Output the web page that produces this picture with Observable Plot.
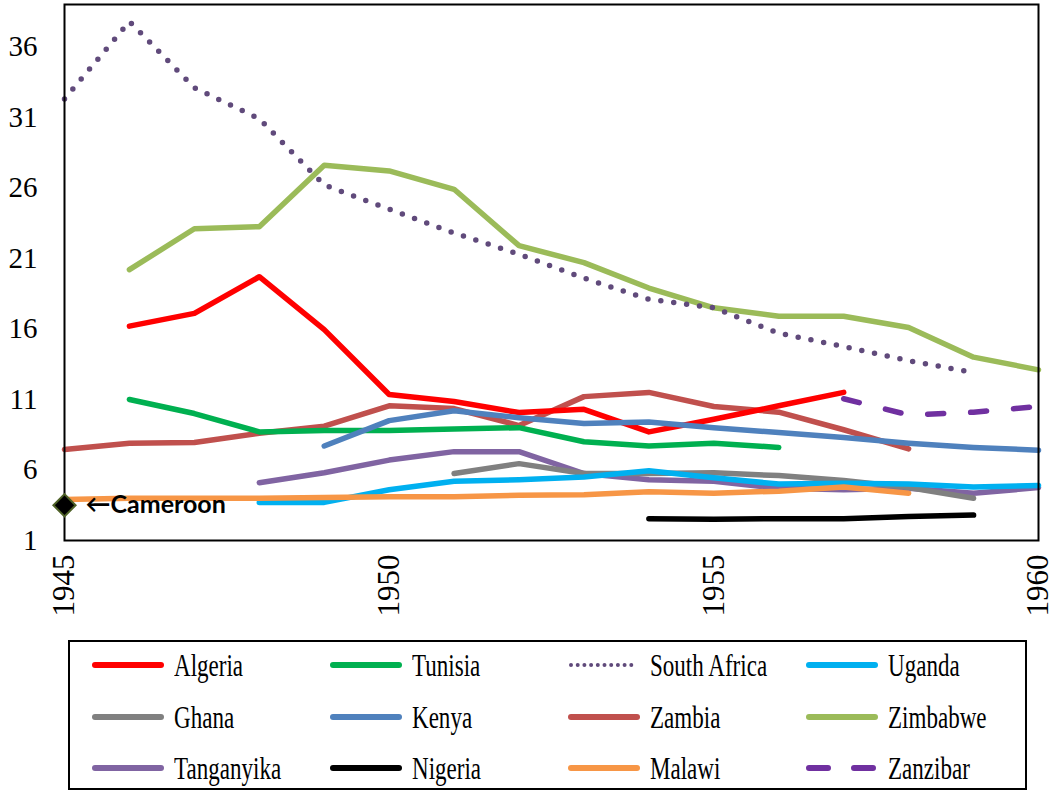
<!DOCTYPE html>
<html><head><meta charset="utf-8">
<script src="https://cdn.jsdelivr.net/npm/d3@7"></script>
<script src="https://cdn.jsdelivr.net/npm/@observablehq/plot@0.6"></script>
<style>
body{margin:0;background:#fff;}
#wrap{position:relative;width:1049px;height:790px;overflow:hidden;}
#chart svg g[aria-label="y-axis tick label"], #chart svg g[aria-label="x-axis tick label"],
#chart svg g[aria-label="y-axis tick label"] text, #chart svg g[aria-label="x-axis tick label"] text{font-family:"Liberation Serif","Times New Roman",serif !important;}
#legend{position:absolute;left:68px;top:640px;width:955px;height:146px;border:2px solid #000;box-sizing:content-box;}
.item{position:absolute;display:flex;align-items:center;height:30px;white-space:nowrap;}
.item svg{flex:none;}
.item span{display:inline-block;font-family:"Liberation Serif",serif;font-size:32px;color:#000;transform:scaleX(0.72);transform-origin:left center;margin-left:9px;line-height:30px;}
</style></head><body><div id="wrap"><div id="chart"></div><div id="legend"></div></div>
<script>
const years = [1945,1946,1947,1948,1949,1950,1951,1952,1953,1954,1955,1956,1957,1958,1959,1960];
const countries = ["Algeria","Tunisia","South Africa","Uganda","Ghana","Kenya","Zambia","Zimbabwe","Tanganyika","Nigeria","Malawi","Zanzibar"];
const colors = ["#FF0000","#00B050","#604A7B","#00B0F0","#808080","#4F81BD","#C0504D","#9BBB59","#8064A2","#000000","#F79646","#7030A0"];
const algeria     = [null,16.2,17.1,19.7,15.95,11.35,10.85,10.07,10.3,8.7,9.6,10.55,11.5,null,null,null];
const tunisia     = [null,11.0,10.0,8.7,8.8,8.8,8.9,9.0,8.0,7.7,7.9,7.6,null,null,null,null];
const southAfrica = [32.3,37.8,33.1,30.9,26.2,24.5,22.8,21.3,19.6,18.1,17.5,15.7,14.75,13.75,12.9,null];
const uganda      = [null,null,null,3.7,3.7,4.6,5.2,5.3,5.5,5.95,5.45,5.0,5.05,5.0,4.8,4.9];
const ghana       = [null,null,null,null,null,null,5.75,6.45,5.75,5.75,5.8,5.6,5.25,4.75,4.0,null];
const kenya       = [null,null,null,null,7.7,9.5,10.2,9.7,9.3,9.4,9.0,8.65,8.3,7.9,7.6,7.4];
const zambia      = [7.45,7.9,7.95,8.6,9.1,10.55,10.35,9.15,11.2,11.5,10.5,10.1,8.85,7.5,null,null];
const zimbabwe    = [null,20.2,23.1,23.25,27.6,27.2,25.9,21.9,20.7,18.9,17.5,16.9,16.9,16.1,14.0,13.1];
const tanganyika  = [null,null,null,5.1,5.8,6.7,7.3,7.3,5.75,5.3,5.2,4.7,4.6,4.7,4.35,4.75];
const nigeria     = [null,null,null,null,null,null,null,null,null,2.55,2.5,2.55,2.55,2.7,2.8,null];
const malawi      = [3.9,4.0,4.0,4.0,4.05,4.1,4.1,4.2,4.25,4.45,4.35,4.5,4.8,4.35,null,null];
const zanzibar    = [null,null,null,null,null,null,null,null,null,null,null,null,11.05,9.9,10.1,10.5];
const seriesValues = [algeria,tunisia,southAfrica,uganda,ghana,kenya,zambia,zimbabwe,tanganyika,nigeria,malawi,zanzibar];
const cameroon = [{year:1945, value:3.5, label:"←Cameroon"}];
const yTicks = [1,6,11,16,21,26,31,36];
const xTicks = [1945,1950,1955,1960];

const rows = countries.flatMap((c,i) => years.map((y,j) => ({country:c, year:y, value:seriesValues[i][j]})).filter(d => d.value != null));
const solid = rows.filter(d => d.country !== "South Africa" && d.country !== "Zanzibar");
const drawOrder = ["Zambia","Algeria","Tunisia","Zimbabwe","Kenya","Tanganyika","Ghana","Uganda","Malawi","Nigeria"];
solid.sort((a,b) => drawOrder.indexOf(a.country) - drawOrder.indexOf(b.country));
const serif = "Liberation Serif, Times New Roman, serif";

const chart = Plot.plot({
  width:1049, height:625,
  marginLeft:64, marginRight:11, marginTop:4, marginBottom:85,
  style:{background:"#fff", color:"#000"},
  x:{domain:[1945,1960]},
  y:{domain:[1,39]},
  color:{domain:countries, range:colors},
  marks:[
    Plot.axisY({ticks:yTicks, tickSize:0, tickPadding:27, fontSize:29, fontFamily:serif, label:null, tickFormat:d=>String(d)}),
    Plot.axisX({ticks:xTicks, tickSize:0, tickPadding:14, fontSize:31, fontFamily:serif, tickRotate:-90, label:null, tickFormat:d=>String(d)}),
    Plot.line(solid, {x:"year", y:"value", z:"country", stroke:"country", strokeWidth:5.5, strokeLinecap:"round", strokeLinejoin:"round"}),
    Plot.line(rows.filter(d=>d.country==="South Africa"), {x:"year", y:"value", stroke:"country", strokeWidth:5.5, strokeDasharray:"0 13", strokeLinecap:"round"}),
    Plot.line(rows.filter(d=>d.country==="Zanzibar"), {x:"year", y:"value", stroke:"country", strokeWidth:5.5, strokeDasharray:"16 27", strokeLinecap:"round"}),
    Plot.frame({stroke:"#000", strokeWidth:2}),
    Plot.dot(cameroon, {x:"year", y:"value", symbol:"diamond2", r:10, fill:"#000", stroke:"#4F6228", strokeWidth:2}),
    Plot.text(cameroon, {x:"year", y:"value", text:"label", dx:21, textAnchor:"start", fontSize:25, fontWeight:"bold", fontFamily:"Lato, sans-serif", fill:"#000"})
  ]
});
document.getElementById("chart").appendChild(chart);

const legend = document.getElementById("legend");
const colX = [21, 259, 497, 735];
const rowY = [23, 75, 126];
countries.forEach((c,i) => {
  const col = i % 4, row = Math.floor(i/4);
  const div = document.createElement("div");
  div.className = "item";
  div.style.left = colX[col] + "px";
  div.style.top = (rowY[row] - 15) + "px";
  let dash = "", w = 6;
  if (c === "South Africa") { dash = "0 6.7"; w = 4; }
  if (c === "Zanzibar") { dash = "19 26"; w = 6; }
  div.innerHTML = `<svg width="74" height="12"><line x1="4" y1="6" x2="70" y2="6" stroke="${colors[i]}" stroke-width="${w}" stroke-linecap="round" ${dash ? `stroke-dasharray="${dash}"` : ""}/></svg><span>${c}</span>`;
  legend.appendChild(div);
});
</script></body></html>
